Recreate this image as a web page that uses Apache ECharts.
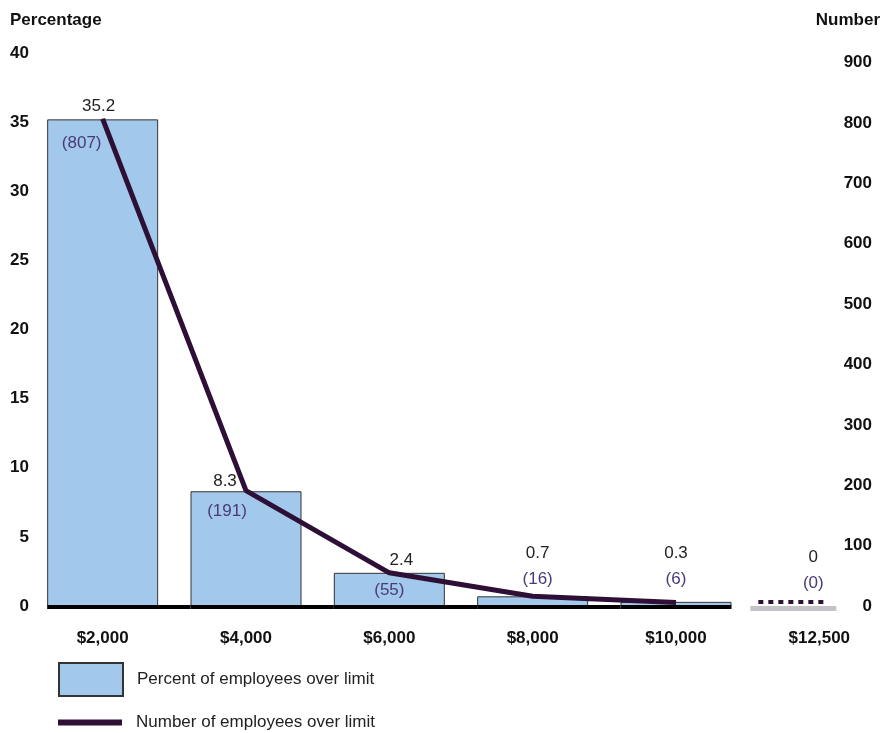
<!DOCTYPE html>
<html>
<head>
<meta charset="utf-8">
<script src="https://cdn.jsdelivr.net/npm/echarts@6/dist/echarts.min.js"></script>
<style>
    html, body { margin: 0; padding: 0; background: #fff; }
    #main { width: 882px; height: 733px; }
</style>
</head>
<body>
<div id="main"></div>
<script>
// data
var categories = ['$2,000', '$4,000', '$6,000', '$8,000', '$10,000', '$12,500'];
var percentOver = [35.2, 8.3, 2.4, 0.7, 0.3, 0];
var numberOver = [807, 191, 55, 16, 6, 0];

var font = "'Liberation Sans', Arial, sans-serif";
var barColor = '#a2c8eb';
var lineColor = '#2e1036';
var countColor = '#4a3a78';
var barW = 111;

// label offsets (layout only)
var pctOffset = [[-4, 0], [-21, 3], [12, 0], [5, -4], [0, -10], [-6, -10]];
var cntOffset = [[-21, 16], [-19, 12], [0, 9]];

var myChart = echarts.init(document.getElementById('main'));

var barData = percentOver.map(function (v, i) {
    return {
        value: v,
        itemStyle: i === percentOver.length - 1 ? { color: 'transparent', borderWidth: 0 } : {},
        label: { offset: pctOffset[i] }
    };
});

var lineData = numberOver.map(function (v, i) {
    if (v === 0) return '-';
    return {
        value: v,
        label: i < 3 ? { show: true, offset: cntOffset[i] } : { show: false }
    };
});

var markData = percentOver.map(function (v, i) {
    return [i, v, numberOver[i]];
});

var option = {
    animation: false,
    textStyle: { fontFamily: font },
    title: [
        { text: 'Percentage', left: 5, top: 7, textStyle: { fontSize: 17, fontWeight: 'bold', color: '#111', fontFamily: font } },
        { text: 'Number', right: -3, top: 7, textStyle: { fontSize: 17, fontWeight: 'bold', color: '#111', fontFamily: font } }
    ],
    legend: [
        {
            data: [{ name: 'Percent of employees over limit', icon: 'rect' }],
            left: 53, top: 657,
            itemWidth: 64, itemHeight: 33,
            textStyle: { fontSize: 17, color: '#222', fontFamily: font, padding: [0, 0, 0, 9] }
        },
        {
            data: [{ name: 'Number of employees over limit', icon: 'rect' }],
            left: 53, top: 709,
            itemWidth: 64, itemHeight: 6,
            textStyle: { fontSize: 17, color: '#222', fontFamily: font, padding: [0, 0, 0, 9] }
        }
    ],
    grid: { left: 31, width: 860, top: 53, bottom: 127, containLabel: false, outerBoundsMode: 'none' },
    xAxis: {
        type: 'category',
        data: categories,
        boundaryGap: true,
        axisLine: { show: false },
        axisTick: { show: false },
        axisLabel: { margin: 24, fontSize: 17, fontWeight: 'bold', color: '#111', fontFamily: font }
    },
    yAxis: [
        {
            type: 'value',
            min: 0, max: 40, interval: 5,
            axisLine: { show: false },
            axisTick: { show: false },
            splitLine: { show: false },
            axisLabel: { margin: 2, fontSize: 17, fontWeight: 'bold', color: '#111', fontFamily: font }
        },
        {
            type: 'value',
            position: 'right',
            min: 0, max: 916, interval: 100,
            axisLine: { show: false },
            axisTick: { show: false },
            splitLine: { show: false },
            axisLabel: {
                inside: true, margin: 19, fontSize: 17, fontWeight: 'bold', color: '#111', fontFamily: font,
                showMaxLabel: false,
                formatter: function (v) { return v % 100 === 0 ? v : ''; }
            }
        }
    ],
    series: [
        {
            name: 'Percent of employees over limit',
            type: 'bar',
            data: barData,
            barWidth: barW,
            itemStyle: { color: barColor, borderColor: '#333', borderWidth: 1 },
            label: {
                show: true,
                position: 'top',
                distance: 0,
                formatter: function (p) {
                    var i = p.dataIndex;
                    if (i < 3) return '{p|' + percentOver[i] + '}';
                    return '{p|' + percentOver[i] + '}\n{n|(' + numberOver[i] + ')}';
                },
                rich: {
                    p: { fontSize: 17, lineHeight: 26, color: '#222', fontFamily: font },
                    n: { fontSize: 17, lineHeight: 26, color: countColor, fontFamily: font }
                }
            }
        },
        {
            // baseline under bars and the zero markers
            type: 'custom',
            data: markData,
            silent: true,
            z: 3,
            renderItem: function (params, api) {
                var i = api.value(0);
                var n = api.value(2);
                var pt = api.coord([i, 0]);
                var bw = api.size([1, 0])[0];
                var x0 = pt[0] - barW / 2;
                if (n > 0) {
                    var next = numberOver[i + 1];
                    var x1 = (next !== undefined && next > 0) ? x0 + bw : pt[0] + barW / 2;
                    return {
                        type: 'line',
                        shape: { x1: x0, y1: pt[1] + 1, x2: x1, y2: pt[1] + 1 },
                        style: { stroke: '#000', lineWidth: 4 }
                    };
                }
                var cx = pt[0] - 26;
                return {
                    type: 'group',
                    children: [
                        {
                            type: 'rect',
                            shape: { x: cx - 43, y: pt[1], width: 86, height: 5 },
                            style: { fill: '#c4c4c8' }
                        },
                        {
                            type: 'line',
                            shape: { x1: cx - 35, y1: pt[1] - 4, x2: cx + 35, y2: pt[1] - 4 },
                            style: { stroke: lineColor, lineWidth: 4, lineDash: [5, 5] }
                        }
                    ]
                };
            }
        },
        {
            name: 'Number of employees over limit',
            type: 'line',
            yAxisIndex: 1,
            data: lineData,
            z: 4,
            symbol: 'circle',
            symbolSize: 1,
            itemStyle: { color: lineColor },
            lineStyle: { color: lineColor, width: 5 },
            label: {
                show: true,
                position: 'bottom',
                distance: 0,
                fontSize: 17,
                color: countColor,
                fontFamily: font,
                formatter: function (p) { return '(' + p.value + ')'; }
            }
        }
    ]
};
if (option && typeof option === "object") {
    myChart.setOption(option, true);
}
</script>
</body>
</html>
